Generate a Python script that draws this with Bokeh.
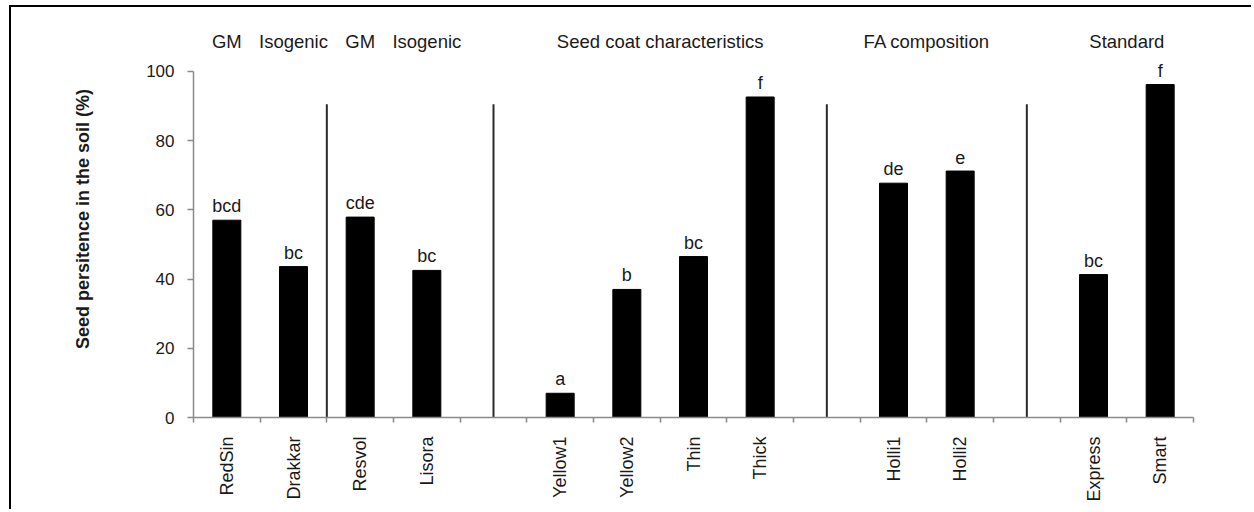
import math
from bokeh.plotting import figure
from bokeh.models import Range1d, FixedTicker, ColumnDataSource
from bokeh.embed import file_html
from bokeh.resources import INLINE
from bokeh.core.properties import value

# ---------------- data ----------------
sections = [
    ["RedSin", "Drakkar"],
    ["Resvol", "Lisora"],
    ["Yellow1", "Yellow2", "Thin", "Thick"],
    ["Holli1", "Holli2"],
    ["Express", "Smart"],
]
gap_before = [False, False, True, True, True]
cultivars = ["RedSin", "Drakkar", "Resvol", "Lisora", "Yellow1", "Yellow2",
             "Thin", "Thick", "Holli1", "Holli2", "Express", "Smart"]
persistence = [57.0, 43.6, 57.9, 42.5, 7.0, 37.0, 46.5, 92.6, 67.7, 71.2, 41.3, 96.2]
letters = ["bcd", "bc", "cde", "bc", "a", "b", "bc", "f", "de", "e", "bc", "f"]
headers = [
    ("GM", ["RedSin"]),
    ("Isogenic", ["Drakkar"]),
    ("GM", ["Resvol"]),
    ("Isogenic", ["Lisora"]),
    ("Seed coat characteristics", ["Yellow1", "Yellow2", "Thin", "Thick"]),
    ("FA composition", ["Holli1", "Holli2"]),
    ("Standard", ["Express", "Smart"]),
]
y_ticks = [0, 20, 40, 60, 80, 100]
separator_top = 90.5
header_y = 108.6

# ---------------- slot layout ----------------
pos = {}
sep_x = []
slot = 0
for k, sec in enumerate(sections):
    if k > 0:
        if gap_before[k]:
            slot += 1
            sep_x.append(slot)
        else:
            sep_x.append(slot + 0.5)
    for name in sec:
        slot += 1
        pos[name] = slot
n_slots = slot
xs = [pos[c] for c in cultivars]

FONT = "Liberation Sans"
W, H = 1242, 504

p = figure(width=W, height=H, output_backend="svg", toolbar_location=None,
           x_range=Range1d(0.5, n_slots + 0.5), y_range=Range1d(0, 114.7),
           min_border_left=182, min_border_right=60, min_border_top=13,
           min_border_bottom=94)
p.outline_line_color = None
p.xgrid.visible = False
p.ygrid.visible = False
p.background_fill_color = "white"
p.border_fill_color = "white"
p.styles = {"border-left": "2px solid black", "border-top": "2px solid black",
            "margin-left": "9px", "margin-top": "5px"}

src = ColumnDataSource(dict(x=xs, top=persistence, letter=letters, name=cultivars))
p.vbar(x="x", top="top", width=0.42, bottom=0, source=src,
       fill_color="black", line_color="black")
p.text(x="x", y="top", text="letter", source=src, text_align="center",
       text_baseline="alphabetic", y_offset=-14, text_font=value(FONT),
       text_font_size="18px", text_color="#1a1a1a")

# separators
p.segment(x0=sep_x, y0=[0] * len(sep_x), x1=sep_x, y1=[separator_top] * len(sep_x),
          line_color="#2b2b2b", line_width=2)

# group headers
hx = [sum(pos[n] for n in names) / len(names) for _, names in headers]
ht = [t for t, _ in headers]
p.text(x=hx, y=[header_y] * len(hx), text=ht, text_align="center",
       text_baseline="middle", text_font=value(FONT), text_font_size="18.5px",
       text_color="#1a1a1a")

# y axis
ya = p.yaxis[0]
ya.bounds = (0, 100)
ya.ticker = FixedTicker(ticks=y_ticks)
ya.axis_label = "Seed persitence in the soil (%)"
ya.axis_label_text_font = FONT
ya.axis_label_text_font_style = "bold"
ya.axis_label_text_font_size = "18px"
ya.axis_label_text_color = "#1a1a1a"
ya.axis_label_standoff = 50
ya.major_label_text_font = FONT
ya.major_label_text_font_size = "17px"
ya.major_label_text_color = "#1a1a1a"
ya.major_label_standoff = 13
ya.axis_line_color = "#8a8a8a"
ya.axis_line_width = 1.5
ya.major_tick_line_color = "#8a8a8a"
ya.major_tick_line_width = 1.5
ya.major_tick_out = 6
ya.major_tick_in = 0
ya.minor_tick_line_color = None

# x axis
xa = p.xaxis[0]
xa.ticker = FixedTicker(ticks=xs, minor_ticks=[i + 0.5 for i in range(n_slots + 1)])
xa.major_label_overrides = {pos[c]: c for c in cultivars}
xa.major_label_orientation = math.pi / 2
xa.major_label_text_font = FONT
xa.major_label_text_font_size = "18px"
xa.major_label_text_color = "#1a1a1a"
xa.major_label_standoff = 14
xa.major_tick_out = 0
xa.major_tick_in = 0
xa.major_tick_line_color = None
xa.minor_tick_out = 5
xa.minor_tick_in = 0
xa.minor_tick_line_color = "#8a8a8a"
xa.minor_tick_line_width = 1.5
xa.axis_line_color = "#8a8a8a"
xa.axis_line_width = 1.5

open("out.html", "w").write(file_html(p, INLINE))
